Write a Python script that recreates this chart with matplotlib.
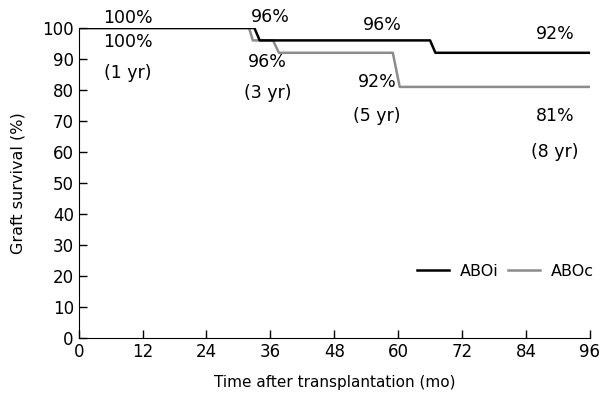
import matplotlib.pyplot as plt

# Kaplan-Meier style curves (months, % graft survival)
aboi_t = [0, 33, 34, 66, 67, 96]
aboi_s = [100, 100, 96, 96, 92, 92]
aboc_t = [0, 32, 32.7, 36.5, 37.6, 59, 60.3, 96]
aboc_s = [100, 100, 96, 96, 92, 92, 81, 81]

# annotation labels: (text, month, % position)
labels = [
    ("100%", 9.2, 103.3), ("100%", 9.2, 95.5), ("(1 yr)", 9.2, 85.5),
    ("96%", 36, 103.5), ("96%", 35.5, 89), ("(3 yr)", 35.5, 79),
    ("96%", 57, 101), ("92%", 56, 82.5), ("(5 yr)", 56, 71.5),
    ("92%", 89.5, 98), ("81%", 89.5, 71.5), ("(8 yr)", 89.5, 60),
]

plt.rcParams['font.family'] = 'DejaVu Sans'
fig = plt.figure(figsize=(6.15, 4), dpi=100)
ax = fig.add_axes([0.128, 0.155, 0.831, 0.775])

ax.plot(aboi_t, aboi_s, color='black', lw=1.8, label='ABOi', zorder=3)
ax.plot(aboc_t, aboc_s, color='#8c8c8c', lw=1.8, label='ABOc', zorder=2)

for txt, x, y in labels:
    ax.text(x, y, txt, ha='center', va='center', fontsize=12.5, clip_on=False)

ax.set_xlim(0, 96)
ax.set_ylim(0, 100)
ax.set_xticks(range(0, 97, 12))
ax.set_yticks(range(0, 101, 10))
ax.tick_params(direction='in', length=6, width=1, labelsize=12)
ax.spines['top'].set_visible(False)
ax.spines['right'].set_visible(False)
ax.set_xlabel('Time after transplantation (mo)', fontsize=11, labelpad=10)
ax.set_ylabel('Graft survival (%)', fontsize=11.5, labelpad=12)

ax.legend(ncol=2, frameon=False, loc='center', bbox_to_anchor=(0.835, 0.216),
          handlelength=2.0, handletextpad=0.7, columnspacing=0.6, fontsize=11.5)

fig.savefig('out.png', dpi=100)
